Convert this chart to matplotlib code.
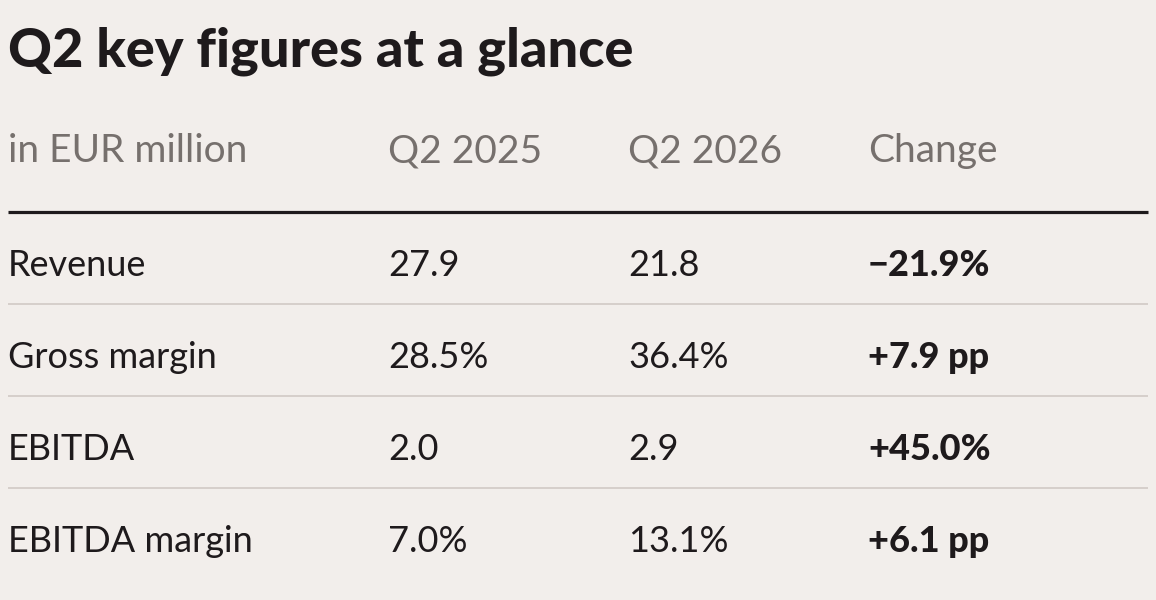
import matplotlib
matplotlib.use("Agg")
from matplotlib import pyplot as plt

title = "Q2 key figures at a glance"
headers = ["in EUR million", "Q2 2025", "Q2 2026", "Change"]
metrics = ["Revenue", "Gross margin", "EBITDA", "EBITDA margin"]
q2_2025 = ["27.9", "28.5%", "2.0", "7.0%"]
q2_2026 = ["21.8", "36.4%", "2.9", "13.1%"]
change = ["\u221221.9%", "+7.9 pp", "+45.0%", "+6.1 pp"]

BG = "#F2EEEB"
DARK = "#1E1A1C"
GREY = "#76706D"
RULE = "#D6CFCB"

plt.rcParams["font.family"] = ["Lato", "DejaVu Sans"]

W, H = 1156, 600
fig = plt.figure(figsize=(W / 100, H / 100), dpi=100, facecolor=BG)
ax = fig.add_axes([0, 0, 1, 1])
ax.set_xlim(0, W)
ax.set_ylim(H, 0)
ax.axis("off")
ax.set_facecolor(BG)

col_x = [8, 388, 628, 868]
left, right = 8, 1148

ax.text(left, 67, title, fontsize=39, fontweight="black", color=DARK, va="baseline")

for x, h in zip(col_x, headers):
    ax.text(x, 162, h, fontsize=28, color=GREY, va="baseline")

ax.plot([left, right], [212, 212], color=DARK, lw=2.3, solid_capstyle="butt")

row_base = [276, 368, 460, 552]
for i, name in enumerate(metrics):
    y = row_base[i]
    ax.text(col_x[0], y, name, fontsize=26, color=DARK, va="baseline")
    ax.text(col_x[1], y, q2_2025[i], fontsize=26, color=DARK, va="baseline")
    ax.text(col_x[2], y, q2_2026[i], fontsize=26, color=DARK, va="baseline")
    ax.text(col_x[3], y, change[i], fontsize=26, color=DARK, va="baseline", fontweight="black")
    if i < len(metrics) - 1:
        ax.plot([left, right], [y + 28, y + 28], color=RULE, lw=1.4, solid_capstyle="butt")

fig.savefig("out.png", dpi=100, facecolor=BG)
